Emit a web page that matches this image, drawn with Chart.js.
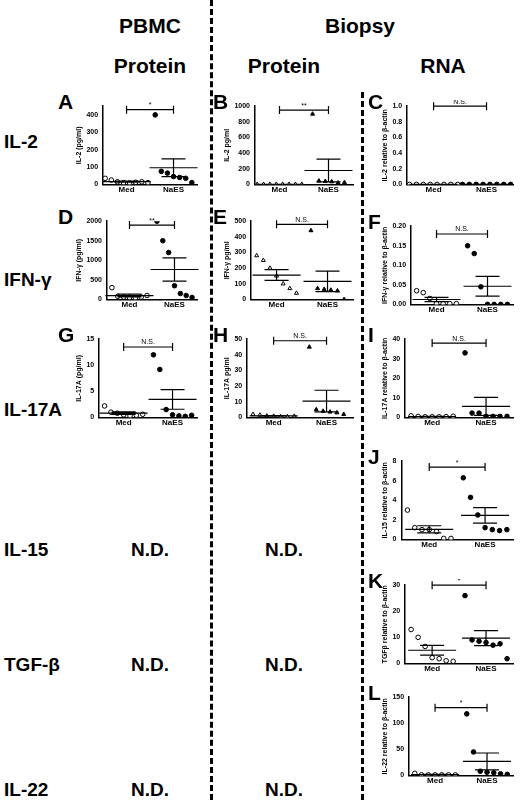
<!DOCTYPE html>
<html><head><meta charset="utf-8">
<script src="https://cdn.jsdelivr.net/npm/chart.js@4"></script>
<style>
body{margin:0;width:524px;height:800px;background:#fff;position:relative;font-family:"Liberation Sans",Arial,sans-serif;overflow:hidden}
.t{position:absolute;font-weight:bold;color:#000;white-space:nowrap}
.h{font-size:21px;transform:translateX(-50%)}
.r{font-size:19px;left:4px;transform:translateY(-50%)}
.nd{font-size:19px;transform:translate(-50%,-50%)}
.L{font-size:21px;transform:translateY(-50%)}
.c{position:absolute}
.v{position:absolute;border-left:3px dashed #000;width:0}
</style></head><body>
<div class="v" style="left:210px;top:0;height:800px"></div>
<div class="v" style="left:361px;top:92px;height:708px"></div>
<div class="t h" style="left:150px;top:14px">PBMC</div>
<div class="t h" style="left:360px;top:14px">Biopsy</div>
<div class="t h" style="left:150px;top:54px">Protein</div>
<div class="t h" style="left:284px;top:54px">Protein</div>
<div class="t h" style="left:443px;top:54px">RNA</div>
<div class="t r" style="top:142px">IL-2</div>
<div class="t r" style="top:280px">IFN-γ</div>
<div class="t r" style="top:410px">IL-17A</div>
<div class="t r" style="top:550px">IL-15</div>
<div class="t r" style="top:665px">TGF-β</div>
<div class="t r" style="top:790px">IL-22</div>
<div class="t nd" style="left:150px;top:550px">N.D.</div>
<div class="t nd" style="left:284px;top:550px">N.D.</div>
<div class="t nd" style="left:150px;top:665px">N.D.</div>
<div class="t nd" style="left:284px;top:665px">N.D.</div>
<div class="t nd" style="left:150px;top:790px">N.D.</div>
<div class="t nd" style="left:284px;top:790px">N.D.</div>
<script>
const groups=["Med","NaES"];
// panel values (Med, NaES)
const A_med=[35,25,15,10,8,12,15,10], A_naes=[400,75,65,45,40,35,10];
const B_med=[2,2,2,2,2,2,2,2], B_naes=[900,45,40,35,20,25];
const C_med=[0,0,0,0,0,0,0,0], C_naes=[0,0,0,0,0,0,0,0];
const D_med=[300,80,60,50,40,60,100], D_naes=[2000,1500,1200,350,150,100,50];
const E_med=[280,250,200,150,100,70,40], E_naes=[440,70,65,60,55,0];
const F_med=[0.035,0.03,0.015,0.002,0.002,0.002,0.002], F_naes=[0.15,0.13,0.045,0,0,0,0];
const G_med=[2.2,1,0.8,0.5,0.3,0.4,0.6], G_naes=[12,9.2,1.5,0.5,0.3,0.2,0.4];
const H_med=[2,1.5,1,0.8,0.5,0.5,0.8], H_naes=[45,5,4,3.5,3,2];
const I_med=[0.8,0.5,0.3,0.3,0.3,0.4,0.6], I_naes=[33,2.2,2.2,0.5,0.5,0.5,0.5];
const J_med=[3,1.2,1,1,0.8,0.1,0.1], J_naes=[6.3,4.3,2.5,1.2,1,0.9,1];
const K_med=[13,10,6.5,2.2,1.8,1,0.8], K_naes=[26,9,8.5,8,7,7.5,1.8];
const L_med=[4,1,1,1,1,1,1], L_naes=[118,45,8,6,5,3,2];
const panels=[
 {id:"A",med:A_med,naes:A_naes,max:450,step:50,title:"IL-2 (pg/ml)",sig:"*",sigY:430,pt:"circle",col:0,top:100},
 {id:"B",med:B_med,naes:B_naes,max:1000,step:200,title:"IL-2 pg/ml",sig:"**",sigY:950,pt:"triangle",col:1,top:100},
 {id:"C",med:C_med,naes:C_naes,max:1.0,step:0.2,title:"IL-2 relative to β-actin",sig:"N.S.",sigY:1.0,pt:"circle",col:2,top:100},
 {id:"D",med:D_med,naes:D_naes,max:2000,step:500,title:"IFN-γ (pg/ml)",sig:"**",sigY:1900,pt:"circle",col:0,top:215},
 {id:"E",med:E_med,naes:E_naes,max:500,step:100,title:"IFN-γ pg/ml",sig:"N.S.",sigY:480,pt:"triangle",col:1,top:215},
 {id:"F",med:F_med,naes:F_naes,max:0.2,step:0.05,title:"IFN-γ relative to β-actin",sig:"N.S.",sigY:0.18,pt:"circle",col:2,top:220},
 {id:"G",med:G_med,naes:G_naes,max:15,step:5,title:"IL-17A (pg/ml)",sig:"N.S.",sigY:13.5,pt:"circle",col:0,top:333},
 {id:"H",med:H_med,naes:H_naes,max:50,step:10,title:"IL-17A pg/ml",sig:"N.S.",sigY:49,pt:"triangle",col:1,top:333},
 {id:"I",med:I_med,naes:I_naes,max:40,step:10,title:"IL-17A relative to β-actin",sig:"N.S.",sigY:38,pt:"circle",col:2,top:333},
 {id:"J",med:J_med,naes:J_naes,max:8,step:2,title:"IL-15 relative to β-actin",sig:"*",sigY:7.4,pt:"circle",col:2,top:455},
 {id:"K",med:K_med,naes:K_naes,max:30,step:10,title:"TGFβ relative to β-actin",sig:"*",sigY:30,pt:"circle",col:2,top:579},
 {id:"L",med:L_med,naes:L_naes,max:150,step:50,title:"IL-22 relative to β-actin",sig:"*",sigY:130,pt:"circle",col:2,top:691}
];
const colLeft=[74,222,380], colW=[128,136,138], letterX=[58,213,368];
function jit(arr,g){const n=arr.length;return arr.map((v,i)=>({x:g+(n>1?(i-(n-1)/2)*0.13:0),y:v}));}
function stats(a){const m=a.reduce((s,v)=>s+v,0)/a.length;const sd=Math.sqrt(a.reduce((s,v)=>s+(v-m)*(v-m),0)/(a.length-1));return [m,sd/Math.sqrt(a.length)];}
const deco={id:"deco",afterDatasetsDraw(ch){const p=ch.options.plugins.deco;const x=ch.scales.x,y=ch.scales.y,c=ch.ctx;c.save();c.strokeStyle="#000";c.lineWidth=1.2;
 [p.med,p.naes].forEach((a,g)=>{const [m,se]=stats(a);const cx=x.getPixelForValue(g);
  c.beginPath();c.moveTo(cx-24,y.getPixelForValue(m));c.lineTo(cx+24,y.getPixelForValue(m));
  const hi=y.getPixelForValue(Math.min(m+se,p.max)),lo=y.getPixelForValue(Math.max(m-se,0));
  c.moveTo(cx,hi);c.lineTo(cx,lo);c.moveTo(cx-12,hi);c.lineTo(cx+12,hi);c.moveTo(cx-12,lo);c.lineTo(cx+12,lo);c.stroke();});
 const sy=y.getPixelForValue(p.sigY),x0=x.getPixelForValue(0),x1=x.getPixelForValue(1);
 c.beginPath();c.moveTo(x0,sy);c.lineTo(x1,sy);c.moveTo(x0,sy-4);c.lineTo(x0,sy+4);c.moveTo(x1,sy-4);c.lineTo(x1,sy+4);c.stroke();
 c.fillStyle="#000";c.font="7px 'Liberation Sans'";c.textAlign="center";c.textBaseline="bottom";c.fillText(p.sig,(x0+x1)/2,sy-1);c.restore();}};
Chart.register(deco);
panels.forEach(p=>{
 const cv=document.createElement("canvas");
 const w=colW[p.col],h=96;
 const wrap=document.createElement("div");wrap.className="c";wrap.style.left=colLeft[p.col]+"px";wrap.style.top=p.top+"px";wrap.style.width=w+"px";wrap.style.height=h+"px";
 wrap.appendChild(cv);document.body.appendChild(wrap);
 const lt=document.createElement("div");lt.className="t L";lt.textContent=p.id;lt.style.left=letterX[p.col]+"px";lt.style.top=(p.top+2)+"px";document.body.appendChild(lt);
 const ds=(a,g,fill)=>({data:jit(a,g),pointStyle:p.pt,pointRadius:2.3,pointBackgroundColor:fill?"#000":"#fff",pointBorderColor:"#000",pointBorderWidth:1,showLine:false});
 new Chart(cv,{type:"scatter",data:{datasets:[ds(p.med,0,false),ds(p.naes,1,true)]},
  options:{responsive:true,maintainAspectRatio:false,animation:false,layout:{padding:{top:6,right:2}},
   plugins:{legend:{display:false},tooltip:{enabled:false},deco:p},
   scales:{x:{type:"linear",min:-0.5,max:1.5,afterBuildTicks:s=>{s.ticks=[{value:0},{value:1}]},
     ticks:{callback:v=>groups[v],font:{size:8,weight:"bold",family:"Liberation Sans"},color:"#000",padding:1},
     grid:{display:false,drawTicks:false},border:{color:"#000",width:1.5}},
    y:{min:0,max:p.max,ticks:{stepSize:p.step,font:{size:7,weight:"bold",family:"Liberation Sans"},color:"#000",padding:2,
      callback:v=>p.max<=1?v.toFixed(p.step<0.1?2:1):v},
     grid:{display:false,drawTicks:true,tickLength:3,tickColor:"#000"},border:{color:"#000",width:1.5},
     title:{display:true,text:p.title,font:{size:7,weight:"bold",family:"Liberation Sans"},color:"#000",padding:1}}}}});
});
</script></body></html>
